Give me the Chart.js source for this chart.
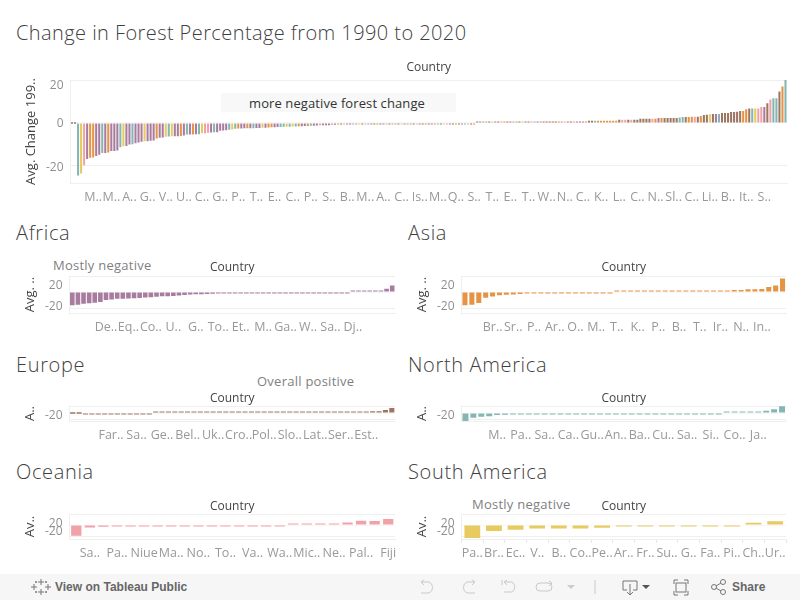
<!DOCTYPE html>
<html>
<head>
<meta charset="utf-8">
<title>Change in Forest Percentage from 1990 to 2020</title>
<script src="https://cdn.jsdelivr.net/npm/chart.js@4"></script>
<style>
html, body { margin: 0; padding: 0; background: #fff; overflow: hidden; }
body { position: relative; width: 800px; height: 600px; font-family: "Open Sans", sans-serif; }
canvas { position: absolute; }
.t { position: absolute; white-space: nowrap; line-height: 1; }
.head { font-size: 20px; font-weight: 300; color: #3f3f3f; letter-spacing: .65px; }
.note { font-size: 13px; color: #7f7f7f; letter-spacing: .25px; }
#box { position: absolute; left: 221px; top: 93px; width: 235px; height: 19px; background: #f8f8f8; }
#bar { position: absolute; left: 0; top: 574px; width: 800px; height: 26px; background: #f6f6f6; }
#bar span { position: absolute; top: 6px; font: bold 12px "Liberation Sans", sans-serif; color: #666; }
#bar svg { position: absolute; top: 0; left: 0; }
</style>
</head>
<body>
<div class="t head" style="left:16px;top:23px;letter-spacing:.42px">Change in Forest Percentage from 1990 to 2020</div>
<div id="box"></div>
<div class="t" style="left:249px;top:97px;font-size:13px;color:#333;letter-spacing:.1px">more negative forest change</div>
<div class="t head" style="left:16px;top:223px">Africa</div>
<div class="t head" style="left:408px;top:223px">Asia</div>
<div class="t head" style="left:16px;top:355px">Europe</div>
<div class="t head" style="left:408px;top:355px">North America</div>
<div class="t head" style="left:16px;top:462px">Oceania</div>
<div class="t head" style="left:408px;top:462px">South America</div>
<div class="t note" style="left:53px;top:259px">Mostly negative</div>
<div class="t note" style="left:257px;top:375px">Overall positive</div>
<div class="t note" style="left:472px;top:498px">Mostly negative</div>

<div id="bar">
<span style="left:55px">View on Tableau Public</span>
<span style="left:732px">Share</span>
<svg width="800" height="26" fill="none" stroke="#777" stroke-width="1">
<path d="M41 5v6M38 8h6M41 15v6M38 18h6M34 10v6M31 13h6M48 10v6M45 13h6M36 7v2M35 8h2M46 7v2M45 8h2M36 17v2M35 18h2M46 17v2M45 18h2"/>
<g stroke="#c9c9c9"><path d="M421 8h8a6 6 0 0 1 0 11h-8M421 8l3-2M421 8l3 3"/><path d="M475 8h-8a6 6 0 0 0 0 11h8M475 8l-3-2M475 8l-3 3"/><path d="M502 6v5M504 8h8a6 6 0 0 1 0 10h-8M504 8l3-2M504 8l3 3"/><rect x="536" y="9" width="16" height="8" rx="4"/><path d="M552 9l-3-2M552 9l-3 3"/><path d="M595 6v14"/></g>
<path d="M567 11h8l-4 4z" fill="#ccc" stroke="none"/>
<path d="M623 7h14v9h-4M627 16h-4V7M630 10v11M627 18l3 3 3-3"/><path d="M642 11h8l-4 4z" fill="#555" stroke="none"/>
<path d="M674 10V6h4M684 6h4v4M688 17v4h-4M678 21h-4v-4"/><rect x="676" y="9" width="10" height="9"/>
<circle cx="714" cy="13" r="2.5"/><circle cx="723" cy="8" r="2.5"/><circle cx="723" cy="18" r="2.5"/><path d="M716 12l5-3M716 14l5 3"/>
</svg>
</div>

<script>
var palette = { a: '#A87C9F', s: '#E49444', e: '#9D7660', n: '#85B6B2', o: '#F1A2A9', u: '#E7CA60' };

var mainValues = [
  0, 0,
  -24.4, -23.5, -19.7, -16.7, -16.2, -16.0, -15.3, -14.8, -14.0, -14.0, -13.7, -13.0, -13.0, -12.8, -11.3, -10.8,
  -10.7, -10.0, -9.9, -9.4, -9.1, -8.7, -8.5, -8.5, -8.2, -8.1, -7.2, -6.9, -6.7, -6.4, -6.3, -6.2,
  -6.2, -6.2, -6.1, -5.8, -5.4, -5.3, -5.3, -5.2, -5.2, -4.8, -4.8, -4.5, -4.4, -4.3, -4.3, -3.6,
  -3.5, -3.4, -3.1, -3.0, -2.7, -2.6, -2.6, -2.5, -2.5, -2.4, -2.4, -2.3, -2.3, -2.2, -2.2,
  -2.1, -2.0, -2.0, -1.9, -1.9, -1.8, -1.7, -1.7, -1.6, -1.6, -1.5, -1.5, -1.4, -1.4, -1.3, -1.3,
  -1.2, -1.1, -1.1, -1.0, -1.0, -0.9, -0.8,
  -0.6, -0.6, -0.6, -0.5, -0.5, -0.5, -0.5, -0.5, -0.4, -0.4, -0.4, -0.4, -0.4, -0.4, -0.3, -0.3,
  -0.3, -0.3, -0.3, -0.3, -0.3, -0.3, -0.2, -0.2, -0.2, -0.2, -0.2, -0.2, -0.2, -0.2, -0.2, -0.2,
  -0.1, -0.1, -0.1, -0.1, -0.1, -0.1, -0.1, -0.1, -0.1, -0.1, -0.1, -0.1, -0.1, -0.1,
  0.1, 0.1, 0.1, 0.1, 0.1, 0.1, 0.1, 0.1, 0.1, 0.2, 0.2, 0.2, 0.2, 0.2, 0.2, 0.2, 0.3, 0.3, 0.3, 0.3, 0.3, 0.3, 0.4, 0.4,
  0.7, 0.7, 0.7, 0.7, 0.7, 0.7, 0.7, 0.6, 0.6, 0.6, 0.6, 0.6, 0.7,
  1.0, 1.0, 1.0, 1.0, 1.0, 1.0, 1.0, 1.0, 1.0, 1.0,
  1.5, 1.5, 1.5, 1.5, 1.5, 1.5, 1.5, 2.0, 2.0, 2.0, 2.0, 2.0, 2.0, 2.3, 2.3, 2.3, 2.3, 2.3, 2.3, 2.3,
  2.5, 2.8, 2.8, 2.8, 2.9, 2.9, 2.9, 3.3, 3.7, 3.8, 4.1, 4.2, 4.2, 4.2, 4.6, 4.6, 4.7, 5.1, 5.1, 5.2,
  5.6, 5.6, 6.4, 6.8, 6.8, 6.8, 6.8, 7.4, 7.4, 9.2, 10.9, 11.5, 11.5, 14.7, 17.0, 20.0
];
var mainRegions = (
  'ee' +
  'nuoassaana' + 'saaanuaana' + 'aauaaasaau' + 'nuaasanasa' + 'nuooanaaaa' + 'nunsaasana' + 'aua' +
  'ssaannununsaasnaaoaaaoa' +
  'seoaensueo' + 'naeseaoens' + 'euanseoaes' + 'easneuoaes' + 'eanoeseasn' + 'euaeoseans' + 'euaeonasee' +
  'eeessoaeoaeas' +
  'eensssssss' +
  'eooeoee' + 'eeeeos' + 'as' + 'eeeee' + 'nnessoe' + 'seeuean' + 'eeeeee' + 'ess' + 'enuo' + 'oa' + 'eonnesn'
).split('');

var mainTicks = ['M..', 'M..', 'A..', 'G..', 'V..', 'U..', 'C..', 'G..', 'P..', 'T..', 'E..', 'C..', 'P..', 'S..', 'B..', 'M..', 'A..', 'C..', 'Is..', 'M..', 'Q..', 'S..', 'T..', 'E..', 'T..', 'W..', 'N..', 'C..', 'K..', 'L..', 'C..', 'N..', 'Sl..', 'C..', 'Li..', 'B..', 'It..', 'S..'];

var africaValues = [-16.7, -15.8, -14.8, -14.0, -13.3, -12.5, -9.9, -9.4, -8.5, -8.3, -8.2, -7.7, -7.5, -6.9, -6.6, -5.9, -5.4, -5.2, -5.0, -4.5, -3.6, -3.2, -2.8, -2.7, -2.4, -2.2, -1.8, -1.5, -1.3, -1.2, -1.0, -0.8, -0.7, -0.6, -0.5, -0.5, -0.4, -0.4, -0.3, -0.3, -0.3, -0.2, -0.2, -0.2, -0.1, -0.1, -0.1, -0.1, -0.1, -0.1, 0.1, 0.5, 0.5, 0.6, 0.7, 1.1, 4.2, 8.0];
var africaTicks = ['De..', 'Eq..', 'Co..', 'U..', 'G..', 'To..', 'Et..', 'M..', 'Ga..', 'W..', 'Sa..', 'Dj..'];

var asiaValues = [-16.5, -16.0, -13.7, -7.2, -5.5, -4.2, -3.4, -3.2, -2.6, -2.0, -1.8, -0.6, -0.5, -0.4, -0.4, -0.3, -0.2, -0.2, -0.1, -0.1, -0.1, -0.1, 0.1, 0.7, 1.0, 1.0, 1.0, 1.0, 1.0, 1.0, 1.0, 1.0, 1.0, 1.0, 1.1, 1.1, 1.1, 1.2, 1.2, 2.5, 2.6, 3.3, 3.5, 3.6, 6.4, 8.0, 17.0];
var asiaTicks = ['Br..', 'Sr..', 'P..', 'Ar..', 'O..', 'M..', 'T..', 'K..', 'P..', 'B..', 'T..', 'Ir..', 'N..', 'In..'];

var europeValues = [0, 0, -0.4, -0.4, -0.3, -0.3, -0.3, -0.3, -0.2, -0.2, -0.2, -0.1, -0.1, 0.1, 0.2, 0.2, 0.3, 0.3, 0.4, 0.5, 0.5, 0.6, 0.6, 0.7, 0.7, 0.7, 0.7, 0.7, 0.7, 0.7, 0.7, 0.8, 0.9, 1.0, 1.1, 1.2, 1.5, 2.0, 2.3, 2.3, 2.3, 2.3, 2.8, 2.9, 3.7, 3.8, 4.2, 5.1, 5.6, 9.2, 14.7];
var europeTicks = ['Far..', 'Sa..', 'Ge..', 'Bel..', 'Uk..', 'Cro..', 'Pol..', 'Slo..', 'Lat..', 'Ser..', 'Est..'];

var northValues = [-24.4, -14.0, -11.3, -9.9, -6.3, -5.4, -0.7, -0.6, -0.6, -0.5, -0.5, -0.4, -0.4, -0.4, -0.3, -0.3, -0.3, -0.3, -0.2, -0.2, -0.2, -0.2, -0.2, -0.1, -0.1, -0.1, -0.1, -0.1, -0.1, -0.1, -0.1, -0.1, -0.1, 0.4, 0.6, 1.0, 2.0, 4.2, 6.8, 11.5, 20.0];
var northTicks = ['M..', 'Pa..', 'Sa..', 'Ca..', 'Gu..', 'An..', 'Ba..', 'Cu..', 'Sa..', 'Si..', 'Co..', 'Ja..'];

var oceaniaValues = [-19.7, -4.7, -3.3, -1.2, -1.0, -0.9, -0.8, -0.7, -0.7, -0.6, -0.5, -0.5, -0.4, -0.3, -0.2, -0.2, 0.1, 1.0, 1.1, 1.3, 4.4, 7.6, 7.4, 10.9];
var oceaniaTicks = ['Sa..', 'Pa..', 'Niue', 'Ma..', 'No..', 'To..', 'Va..', 'Wa..', 'Mic..', 'Ne..', 'Pal..', 'Fiji'];

var southValues = [-23.5, -10.8, -8.5, -6.4, -6.2, -6.2, -4.8, -0.9, -0.8, -0.7, -0.6, -0.5, -0.4, 4.1, 6.8];
var southTicks = ['Pa..', 'Br..', 'Ec..', 'V..', 'B..', 'Co..', 'Pe..', 'Ar..', 'Fr..', 'Su..', 'G..', 'Fa..', 'Pi..', 'Ch..', 'Ur..'];

// value labels are pulled in by tableau so they don't sit on the plot edges
var yLabels = {
  id: 'yLabels',
  afterDraw: function (chart, args, opts) {
    var y = chart.scales.y, c = chart.ctx;
    c.save();
    c.font = '12px "Open Sans"';
    c.fillStyle = '#8f8f8f';
    c.textAlign = 'right';
    c.textBaseline = 'middle';
    opts.items.forEach(function (it) {
      c.fillText(String(it[0]), y.left + y.width - 7, y.getPixelForValue(it[0]) + it[1] + 1);
    });
    c.restore();
  }
};

function panel(o) {
  var yw = 47.5, bottom = 26;
  var top = o.countryY - 6;
  var cv = document.createElement('canvas');
  cv.width = o.x1 - o.x0 + yw + 5;
  cv.height = o.y1 + bottom - top;
  cv.style.left = (o.x0 - yw) + 'px';
  cv.style.top = top + 'px';
  document.body.appendChild(cv);

  new Chart(cv, {
    type: 'bar',
    plugins: [yLabels],
    data: {
      labels: o.values.map(function (v, i) { return i; }),
      datasets: [{
        data: o.values,
        backgroundColor: o.colors,
        barPercentage: o.barWidth,
        categoryPercentage: 1,
        minBarLength: 1.6
      }]
    },
    options: {
      responsive: false,
      animation: false,
      layout: { padding: { right: 5 } },
      plugins: {
        legend: { display: false },
        tooltip: { enabled: false },
        yLabels: { items: o.yItems }
      },
      scales: {
        x: {
          offset: true,
          grid: { drawOnChartArea: false, drawTicks: true, tickLength: o.tickLength || 1, color: '#e6e6e6' },
          border: { color: '#efefef' },
          ticks: {
            autoSkip: false, maxRotation: 0, minRotation: 0, padding: o.tickPad,
            color: '#999', font: { family: 'Open Sans', size: 12.5 },
            callback: function (v, i) {
              var k = i - o.tickStart;
              return (k >= 0 && k % o.tickEvery === 0 && o.ticks[k / o.tickEvery]) || '';
            }
          },
          afterFit: function (s) { s.height = bottom; s.paddingLeft = 0; s.paddingRight = 0; }
        },
        top: {
          type: 'category',
          position: 'top',
          labels: [''],
          grid: { display: false },
          border: { display: false },
          ticks: { display: false },
          title: { display: true, text: 'Country', color: '#444', padding: 0, font: { family: 'Open Sans', size: 12 } },
          afterFit: function (s) { s.height = o.y0 - top; s.paddingLeft = 0; s.paddingRight = 0; }
        },
        y: {
          min: o.min,
          max: o.max,
          grid: {
            drawTicks: false,
            color: function (ctx) { return ctx.tick && ctx.tick.value === 0 ? '#f6f6f6' : '#efefef'; }
          },
          border: { color: '#efefef' },
          ticks: { display: false },
          title: { display: true, text: o.yTitle, color: '#444', padding: 0, font: { family: 'Open Sans', size: 13 } },
          afterBuildTicks: function (s) { s.ticks = [{ value: 20 }, { value: 0 }, { value: -20 }]; },
          afterFit: function (s) { s.width = yw; s.paddingTop = 0; s.paddingBottom = 0; }
        }
      }
    }
  });
}

panel({
  values: mainValues, colors: mainRegions.map(function (r) { return palette[r]; }), ticks: mainTicks,
  x0: 70, x1: 787, y0: 80, y1: 183, countryY: 66, min: -27.907, max: 20, barWidth: 0.68,
  tickStart: 7, tickEvery: 6, tickPad: 6, yTitle: 'Avg. Change 199..',
  yItems: [[20, 5], [0, 0], [-20, 1]]
});
panel({
  values: africaValues, colors: palette.a, ticks: africaTicks,
  x0: 69.5, x1: 395, y0: 276, y1: 313, countryY: 266, min: -26.25, max: 20, barWidth: 0.82,
  tickStart: 6, tickEvery: 4, tickPad: 6, yTitle: 'Avg. ..',
  yItems: [[20, 9], [-20, -2.5]]
});
panel({
  values: asiaValues, colors: palette.s, ticks: asiaTicks,
  x0: 461.7, x1: 787, y0: 276, y1: 313, countryY: 266, min: -26.25, max: 20, barWidth: 0.73,
  tickStart: 4, tickEvery: 3, tickPad: 6, yTitle: 'Avg. ..',
  yItems: [[20, 9], [-20, -2.5]]
});
panel({
  values: europeValues, colors: palette.e, ticks: europeTicks,
  x0: 69.5, x1: 395, y0: 406, y1: 421, countryY: 397, min: -24, max: 21, barWidth: 0.8,
  tickStart: 6, tickEvery: 4, tickPad: 6, yTitle: 'A..',
  yItems: [[-20, -4.8]]
});
panel({
  values: northValues, colors: palette.n, ticks: northTicks,
  x0: 461.7, x1: 787, y0: 406, y1: 421, countryY: 397, min: -24, max: 21, barWidth: 0.75,
  tickStart: 4, tickEvery: 3, tickPad: 6, yTitle: 'A..',
  yItems: [[-20, -4.8]]
});
panel({
  values: oceaniaValues, colors: palette.o, ticks: oceaniaTicks,
  x0: 69.5, x1: 395, y0: 514, y1: 539, countryY: 505, min: -25.45, max: 20, barWidth: 0.76,
  tickStart: 1, tickEvery: 2, tickPad: 6, yTitle: 'Av..',
  yItems: [[20, 9], [-20, -5]]
});
panel({
  values: southValues, colors: palette.u, ticks: southTicks,
  x0: 461.7, x1: 787, y0: 514, y1: 539, countryY: 505, min: -25.45, max: 20, barWidth: 0.73,
  tickStart: 0, tickEvery: 1, tickPad: 3, tickLength: 4, yTitle: 'Av..',
  yItems: [[20, 9], [-20, -5]]
});
</script>
</body>
</html>
